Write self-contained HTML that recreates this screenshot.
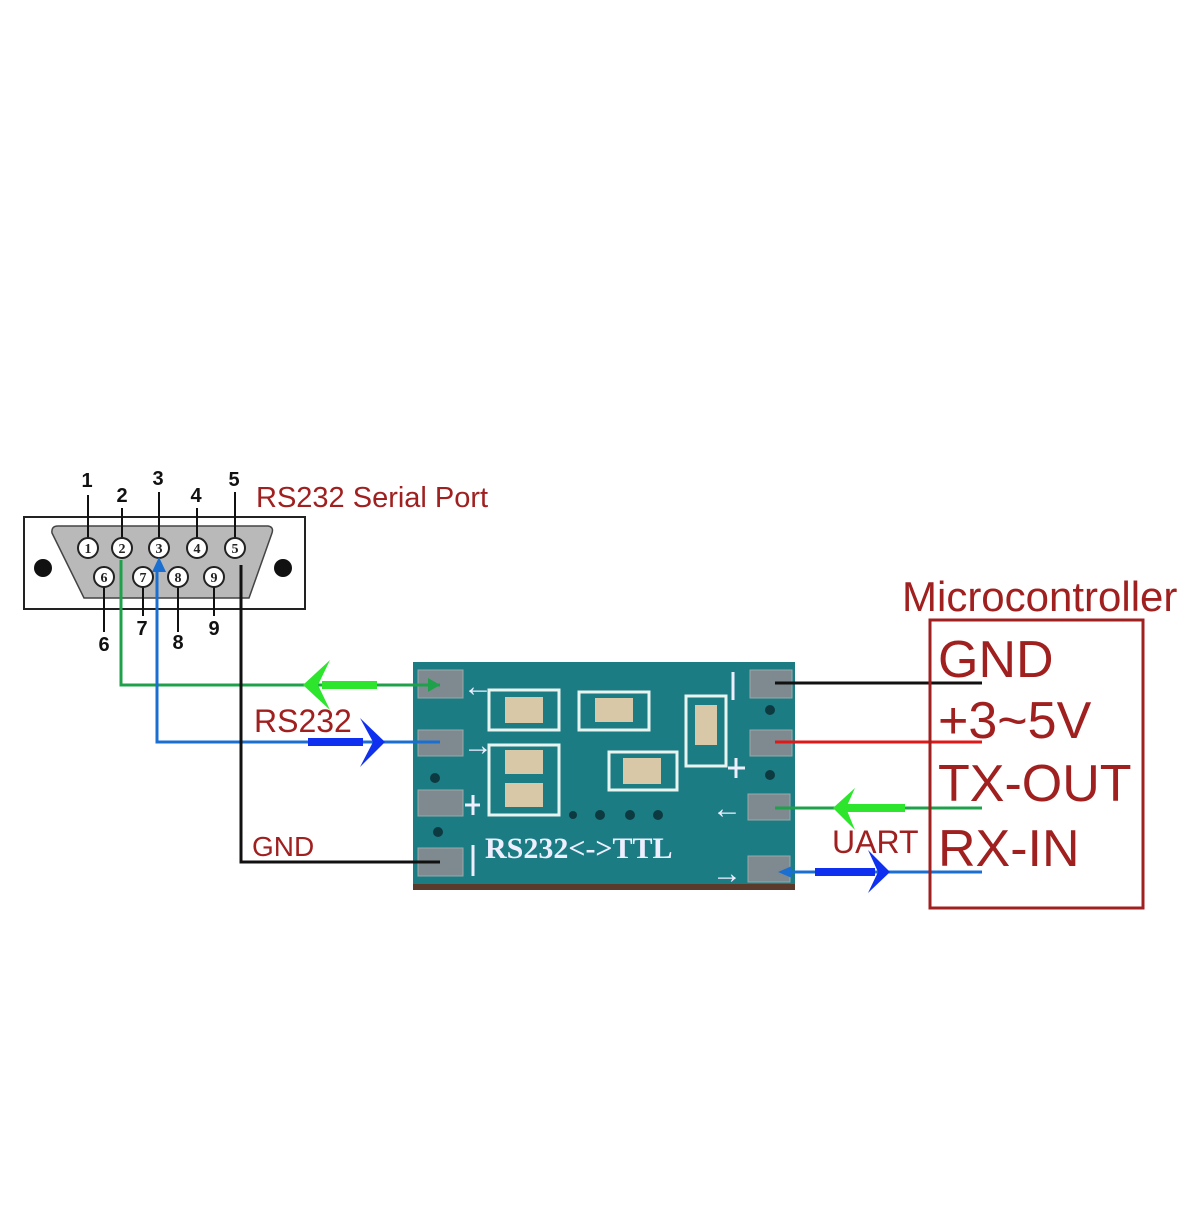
<!DOCTYPE html>
<html><head><meta charset="utf-8"><style>html,body{margin:0;padding:0;background:#fff}</style></head>
<body>
<svg width="1200" height="1200" viewBox="0 0 1200 1200" xmlns="http://www.w3.org/2000/svg" font-family="Liberation Sans, sans-serif">
<rect width="1200" height="1200" fill="#fff"/>
<!-- DB9 connector -->
<rect x="24" y="517" width="281" height="92" fill="#fff" stroke="#222" stroke-width="2"/>
<path d="M58,526 L268,526 Q274,527 272,533 L249,598 L84,598 L52,533 Q51,526 58,526Z" fill="#b9b9b9" stroke="#444" stroke-width="1.5"/>
<circle cx="43" cy="568" r="9" fill="#111"/>
<circle cx="283" cy="568" r="9" fill="#111"/>
<g stroke="#111" stroke-width="2">
<line x1="88" y1="495" x2="88" y2="538"/><line x1="122" y1="508" x2="122" y2="538"/><line x1="159" y1="492" x2="159" y2="538"/><line x1="197" y1="508" x2="197" y2="538"/><line x1="235" y1="492" x2="235" y2="538"/>
<line x1="104" y1="587" x2="104" y2="632"/><line x1="143" y1="587" x2="143" y2="616"/><line x1="178" y1="587" x2="178" y2="632"/><line x1="214" y1="587" x2="214" y2="616"/>
</g>
<g fill="#fff" stroke="#222" stroke-width="2">
<circle cx="88" cy="548" r="10"/><circle cx="122" cy="548" r="10"/><circle cx="159" cy="548" r="10"/><circle cx="197" cy="548" r="10"/><circle cx="235" cy="548" r="10"/>
<circle cx="104" cy="577" r="10"/><circle cx="143" cy="577" r="10"/><circle cx="178" cy="577" r="10"/><circle cx="214" cy="577" r="10"/>
</g>
<g font-family="Liberation Serif, serif" font-weight="bold" font-size="14" text-anchor="middle" fill="#222">
<text x="88" y="553">1</text><text x="122" y="553">2</text><text x="159" y="553">3</text><text x="197" y="553">4</text><text x="235" y="553">5</text>
<text x="104" y="582">6</text><text x="143" y="582">7</text><text x="178" y="582">8</text><text x="214" y="582">9</text>
</g>
<g font-size="20" font-weight="bold" text-anchor="middle" fill="#111">
<text x="87" y="487">1</text><text x="122" y="502">2</text><text x="158" y="485">3</text><text x="196" y="502">4</text><text x="234" y="486">5</text>
<text x="104" y="651">6</text><text x="142" y="635">7</text><text x="178" y="649">8</text><text x="214" y="635">9</text>
</g>
<text x="256" y="507" font-size="29" fill="#a02020">RS232 Serial Port</text>

<!-- Board -->
<rect x="413" y="662" width="382" height="228" fill="#1b7c84"/>
<rect x="413" y="884" width="382" height="6" fill="#5a3a2a"/>
<g fill="#7e8a90" stroke="#9aa" stroke-width="1">
<rect x="418" y="670" width="45" height="28"/><rect x="418" y="730" width="45" height="26"/><rect x="418" y="790" width="45" height="26"/><rect x="418" y="848" width="45" height="28"/>
<rect x="750" y="670" width="42" height="28"/><rect x="750" y="730" width="42" height="26"/><rect x="748" y="794" width="42" height="26"/><rect x="748" y="856" width="42" height="26"/>
</g>
<g fill="none" stroke="#e8f4f0" stroke-width="3">
<rect x="489" y="690" width="70" height="40"/><rect x="579" y="692" width="70" height="38"/><rect x="489" y="745" width="70" height="70"/><rect x="609" y="752" width="68" height="38"/><rect x="686" y="696" width="40" height="70"/>
</g>
<g fill="#d8c8a8"><rect x="505" y="697" width="38" height="26"/><rect x="595" y="698" width="38" height="24"/><rect x="505" y="750" width="38" height="24"/><rect x="505" y="783" width="38" height="24"/><rect x="623" y="758" width="38" height="26"/><rect x="695" y="705" width="22" height="40"/></g>
<g fill="#0d3a40"><circle cx="435" cy="778" r="5"/><circle cx="438" cy="832" r="5"/><circle cx="600" cy="815" r="5"/><circle cx="630" cy="815" r="5"/><circle cx="658" cy="815" r="5"/><circle cx="770" cy="710" r="5"/><circle cx="770" cy="775" r="5"/><circle cx="573" cy="815" r="4"/></g>
<g stroke="#eef" stroke-width="3" fill="none"><line x1="473" y1="845" x2="473" y2="876"/><line x1="733" y1="672" x2="733" y2="700"/><line x1="728" y1="768" x2="745" y2="768"/><line x1="736" y1="758" x2="736" y2="778"/><line x1="465" y1="805" x2="480" y2="805"/><line x1="473" y1="795" x2="473" y2="815"/></g>
<text x="485" y="858" font-family="Liberation Serif, serif" font-size="30" font-weight="bold" fill="#eef">RS232&lt;-&gt;TTL</text>
<g fill="#eef" font-size="30" font-weight="bold"><text x="463" y="696">←</text><text x="463" y="755">→</text><text x="712" y="818">←</text><text x="712" y="883">→</text></g>

<!-- Left wires -->
<polyline points="121,560 121,685 440,685" fill="none" stroke="#1fa04a" stroke-width="3"/>
<polygon points="440,685 428,678 428,692" fill="#1fa04a"/>
<rect x="322" y="681" width="55" height="8" fill="#2ee52e"/>
<polygon points="303,685 330,660 318,685 330,710" fill="#2ee52e"/>
<polyline points="157,565 157,742 440,742" fill="none" stroke="#1a6fd0" stroke-width="3"/>
<polygon points="159,557 152,572 166,572" fill="#1a6fd0"/>
<rect x="308" y="738" width="55" height="8" fill="#1030f0"/>
<polygon points="385,742 360,718 373,742 360,767" fill="#1030f0"/>
<polyline points="241,565 241,862 440,862" fill="none" stroke="#111" stroke-width="3"/>
<text x="254" y="732" font-size="32" fill="#a02020">RS232</text>
<text x="252" y="856" font-size="28" fill="#a02020">GND</text>

<!-- Right wires -->
<line x1="775" y1="683" x2="982" y2="683" stroke="#111" stroke-width="3"/>
<line x1="775" y1="742" x2="982" y2="742" stroke="#e01818" stroke-width="3"/>
<line x1="775" y1="808" x2="982" y2="808" stroke="#1fa04a" stroke-width="3"/>
<rect x="845" y="804" width="60" height="8" fill="#2ee52e"/>
<polygon points="833,808 855,788 846,808 855,830" fill="#2ee52e"/>
<line x1="782" y1="872" x2="982" y2="872" stroke="#1a6fd0" stroke-width="3"/>
<polygon points="778,872 792,866 792,878" fill="#1a6fd0"/>
<rect x="815" y="868" width="60" height="8" fill="#1030f0"/>
<polygon points="890,872 868,850 878,872 868,893" fill="#1030f0"/>
<text x="832" y="853" font-size="32" fill="#a02020">UART</text>

<!-- Microcontroller -->
<text x="902" y="611" font-size="42" fill="#a02020">Microcontroller</text>
<rect x="930" y="620" width="213" height="288" fill="none" stroke="#a02020" stroke-width="3"/>
<g font-size="52" fill="#a02020">
<text x="938" y="677">GND</text><text x="938" y="738">+3~5V</text><text x="938" y="801">TX-OUT</text><text x="938" y="866">RX-IN</text>
</g>
</svg>
</body></html>
